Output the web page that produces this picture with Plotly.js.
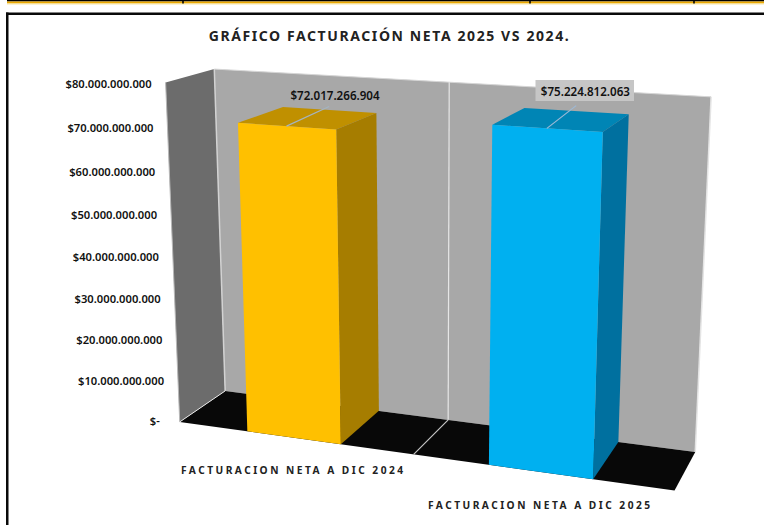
<!DOCTYPE html>
<html><head><meta charset="utf-8">
<script src="https://cdn.plot.ly/plotly-3.0.1.min.js"></script>
<style>
html,body{margin:0;padding:0;background:#fff}
.gtitle{letter-spacing:1.6px}
.annotation-text{letter-spacing:2.47px}
</style></head><body>
<div id="chart" style="width:764px;height:525px"></div>
<script>
// ---- chart data ----
const chartTitle = "GRÁFICO FACTURACIÓN NETA 2025 VS 2024.";
const categories = ["FACTURACION NETA A DIC 2024", "FACTURACION NETA A DIC 2025"];
const values = [72017266904, 75224812063];
const valueLabels = ["$72.017.266.904", "$75.224.812.063"];
const tickValues = [0, 10e9, 20e9, 30e9, 40e9, 50e9, 60e9, 70e9, 80e9];
const tickLabels = ["$-", "$10.000.000.000", "$20.000.000.000", "$30.000.000.000", "$40.000.000.000",
  "$50.000.000.000", "$60.000.000.000", "$70.000.000.000", "$80.000.000.000"];
const axisMax = 80e9;
const frontColors = ["#FFC000", "#00B0F0"];
const topColors = ["#C09000", "#0085B5"];
const sideColors = ["#A67D00", "#00709F"];

// ---- camera: fitted 3D projection (u across, w depth, v value fraction -> page px) ----
const camera = [
  [0,0,0,180,422],[1,0,0,675,491],[0,1,0,225,391],[1,1,0,695,452],
  [0,0,1,165,83],[0,1,1,214,69],[1,1,1,711,97],
  [.5,1,1,449,82],[.5,1,0,449,420],[.5,0,0,413,454],
  [.15,0,.9002,238,123],[.35,0,.9002,336,129],[.15,0,0,248,431],[.35,0,0,340,444],
  [.15,1,.9002,284,107],[.35,1,.9002,376,113],[.35,1,0,378,411],
  [.65,0,.9403,493,125],[.85,0,.9403,602,132],[.65,0,0,490,465],[.85,0,0,593,479],
  [.65,1,.9403,526,108],[.85,1,.9403,628,114],[.85,1,0,618,442]
];
function solve(A,b){
  const n=b.length, M=A.map((r,i)=>r.concat(b[i]));
  for(let i=0;i<n;i++){
    let p=i; for(let k=i+1;k<n;k++) if(Math.abs(M[k][i])>Math.abs(M[p][i])) p=k;
    [M[i],M[p]]=[M[p],M[i]];
    for(let k=0;k<n;k++){ if(k===i) continue; const f=M[k][i]/M[i][i];
      for(let j=i;j<=n;j++) M[k][j]-=f*M[i][j]; }
  }
  return M.map((r,i)=>r[n]/r[i]);
}
const P=(function(){
  const rows=[],rhs=[];
  camera.forEach(([X,Y,Z,x,y])=>{
    rows.push([X,Y,Z,1,0,0,0,0,-x*X,-x*Y,-x*Z]); rhs.push(x);
    rows.push([0,0,0,0,X,Y,Z,1,-y*X,-y*Y,-y*Z]); rhs.push(y);
  });
  const N=Array.from({length:11},(_,i)=>Array.from({length:11},(_,j)=>rows.reduce((s,r)=>s+r[i]*r[j],0)));
  const B=Array.from({length:11},(_,i)=>rows.reduce((s,r,k)=>s+r[i]*rhs[k],0));
  return solve(N,B);
})();
function proj(u,w,v){
  const d=P[8]*u+P[9]*w+P[10]*v+1;
  return [(P[0]*u+P[1]*w+P[2]*v+P[3])/d,(P[4]*u+P[5]*w+P[6]*v+P[7])/d];
}
function face(pts,fill,line,extra){
  const p=pts.map(a=>proj(a[0],a[1],a[2]));
  return Object.assign({type:'scatter',mode:line?'lines':'none',x:p.map(a=>a[0]).concat(p[0][0]),y:p.map(a=>a[1]).concat(p[0][1]),
    fill:'toself',fillcolor:fill,line:{color:line||fill,width:line?1:0},hoverinfo:'skip',showlegend:false},extra||{});
}
function seg(a,b,color,width){
  const p=proj(...a),q=proj(...b);
  return {type:'scatter',mode:'lines',x:[p[0],q[0]],y:[p[1],q[1]],line:{color:color,width:width},hoverinfo:'skip',showlegend:false};
}

const traces=[];
// walls and floor
traces.push(face([[0,0,0],[0,1,0],[0,1,1],[0,0,1]],'#6C6C6C'));
traces.push(face([[0,1,0],[1,1,0],[1,1,1],[0,1,1]],'#A8A8A8'));
traces.push(face([[0,0,0],[1,0,0],[1,1,0],[0,1,0]],'#080808'));
// wall edges and the centre gridline
traces.push(seg([0,1,0],[0,1,1],'#D2D2D2',1.5));
traces.push(seg([0,1,1],[1,1,1],'#D6D6D6',1));
traces.push(seg([1,1,1],[1,1,0],'#E4E4E4',1.5));
traces.push(seg([0,0,0],[0,0,1],'#B8B8B8',1));
traces.push(seg([0,0,0],[0,1,0],'#E8E8E8',1));
traces.push(seg([.5,1,0],[.5,1,1],'#E6E6E6',1.2));
traces.push(seg([.5,1,0],[.5,0,0],'#C8C8C8',1.2));
// plate behind the second value label
traces.push({type:'scatter',mode:'none',x:[535.5,634,634,535.5,535.5],y:[80,80,101,101,80],fill:'toself',fillcolor:'#C6C6C6',hoverinfo:'skip',showlegend:false});

// bars: each category owns half the width, gap width 150%
values.forEach((val,i)=>{
  const v=val/axisMax, u0=i*.5+.15, u1=i*.5+.35;
  traces.push(face([[u0,1,v],[u1,1,v],[u1,0,v],[u0,0,v]],topColors[i]));
  traces.push(face([[u1,0,0],[u1,1,0],[u1,1,v],[u1,0,v]],sideColors[i]));
  traces.push(face([[u0,0,0],[u1,0,0],[u1,0,v],[u0,0,v]],frontColors[i]));
});
// leader lines from the bar tops to the value labels
values.forEach((val,i)=>{
  const v=val/axisMax, uc=i*.5+.25;
  traces.push(seg([uc,0,v],[uc,1,v+(i?.015:.01)],i?'#9DB9D6':'#A4B4C0',1.2));
});

// value-axis labels, running along the front edge of the left wall
const tickPts=tickValues.map(t=>proj(0,0,t/axisMax));
traces.push({type:'scatter',mode:'text',
  x:tickPts.map((p,i)=>p[0]-(i===0?20:14)),y:tickPts.map((p,i)=>p[1]+.5+2*tickValues[i]/axisMax),
  text:tickLabels,textposition:'middle left',cliponaxis:false,
  textfont:{family:'Noto Sans, Open Sans, sans-serif',size:11.2,color:'#111',weight:600},
  hoverinfo:'skip',showlegend:false});

// value labels above each bar
const labelPts=values.map((val,i)=>{const q=proj(i*.5+.25,1,val/axisMax+(i?.045:.03));return [q[0]+(i?9:6),q[1]-(i?2:3)];});
traces.push({type:'scatter',mode:'text',x:labelPts.map(p=>p[0]),y:labelPts.map(p=>p[1]),
  text:valueLabels,textposition:'middle center',cliponaxis:false,
  textfont:{family:'Noto Sans, Open Sans, sans-serif',size:11.6,color:'#111',weight:600},
  hoverinfo:'skip',showlegend:false});

// category labels
const catX=[179,426], catY=[470,505];
const annotations=categories.map((c,i)=>({text:c,x:catX[i],y:catY[i],xref:'x',yref:'y',xanchor:'left',yanchor:'middle',
  showarrow:false,font:{family:'Noto Sans, Open Sans, sans-serif',size:10.2,color:'#222',weight:700}}));

const shapes=[
  // table row above the chart
  {type:'rect',x0:7,x1:764,y0:0,y1:1.5,fillcolor:'#000',line:{width:0},layer:'below'},
  {type:'rect',x0:7,x1:764,y0:1.5,y1:3.5,fillcolor:'#EBA800',line:{width:0},layer:'below'},
  {type:'rect',x0:7,x1:764,y0:3.5,y1:4.5,fillcolor:'#F8E7A8',line:{width:0},layer:'below'},
  ...[183,530,694].map(x=>({type:'rect',x0:x-.8,x1:x+.8,y0:0,y1:3.5,fillcolor:'#000',line:{width:0},layer:'below'})),
  // chart frame
  {type:'rect',x0:6,x1:764,y0:12.5,y1:15,fillcolor:'#0A0A0A',line:{width:0},layer:'below'},
  {type:'rect',x0:6,x1:8.5,y0:12.5,y1:525,fillcolor:'#0A0A0A',line:{width:0},layer:'below'}
];

const layout={
  width:764,height:525,margin:{l:0,r:0,t:0,b:0},paper_bgcolor:'#fff',plot_bgcolor:'#fff',showlegend:false,
  title:{text:chartTitle,x:389.5/764,xanchor:'center',y:1-36/525,yanchor:'middle',
    font:{family:'Noto Sans, Open Sans, sans-serif',size:14,color:'#222',weight:700}},
  xaxis:{range:[0,764],visible:false,fixedrange:true},
  yaxis:{range:[525,0],visible:false,fixedrange:true},
  annotations:annotations,shapes:shapes
};
Plotly.newPlot('chart',traces,layout,{displayModeBar:false,staticPlot:true});
</script></body></html>
